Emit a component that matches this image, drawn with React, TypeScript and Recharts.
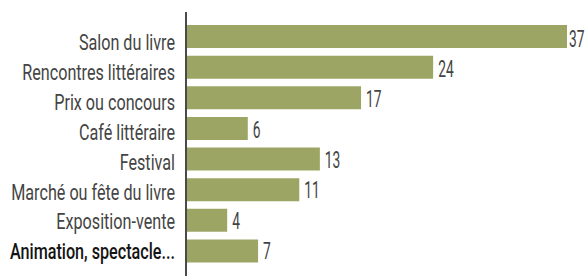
import { BarChart, Bar, XAxis, YAxis, LabelList } from "recharts";

const categories = [
  "Salon du livre",
  "Rencontres littéraires",
  "Prix ou concours",
  "Café littéraire",
  "Festival",
  "Marché ou fête du livre",
  "Exposition-vente",
  "Animation, spectacle...",
];
const counts = [37, 24, 17, 6, 13, 11, 4, 7];

const data = categories.map((name, i) => ({ name, value: counts[i] }));

// condensed look: Roboto squeezed horizontally
const FONT = "Roboto, sans-serif";

function CategoryTick(props: any) {
  const { x, y, payload, index } = props;
  const last = index === categories.length - 1;
  const dy = 13.6 - index * 0.7;
  return (
    <g transform={`translate(${x},${y + dy}) scale(0.735,1)`}>
      <text
        x={0}
        y={0}
        textAnchor="end"
        fontFamily={FONT}
        fontSize={22}
        fill={last ? "#141414" : "#444"}
        fontWeight={last ? 500 : 400}
      >
        {payload.value}
      </text>
    </g>
  );
}

function ValueLabel(props: any) {
  const { x, y, width, height, value, index } = props;
  const dy = 10.3 - index * 0.33;
  const gap = index === 0 ? 2 : 5;
  return (
    <g transform={`translate(${x + width + gap},${y + height / 2 + dy}) scale(0.6,1)`}>
      <text x={0} y={0} fontFamily={FONT} fontSize={23} fill="#444">
        {value}
      </text>
    </g>
  );
}

export default function App() {
  return (
    <div style={{ position: "fixed", left: 0, top: 0, background: "#fff" }}>
      <BarChart
        width={587}
        height={276}
        data={data}
        layout="vertical"
        margin={{ top: 12, right: 20, bottom: 0, left: 0 }}
      >
        <XAxis type="number" domain={[0, 37]} hide />
        <YAxis
          type="category"
          dataKey="name"
          width={186}
          tickLine={false}
          tickSize={0}
          tickMargin={11}
          axisLine={{ stroke: "#4a4a4a", strokeWidth: 2 }}
          padding={{ top: 9, bottom: 10 }}
          interval={0}
          tick={<CategoryTick />}
        />
        <Bar dataKey="value" fill="#9ca564" barSize={23} isAnimationActive={false}>
          <LabelList dataKey="value" content={<ValueLabel />} />
        </Bar>
      </BarChart>
    </div>
  );
}
